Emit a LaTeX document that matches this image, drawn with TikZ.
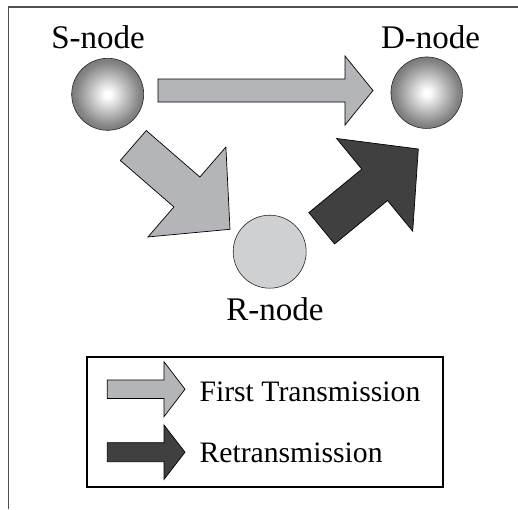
\documentclass[tikz,border=0pt]{standalone}
\usepackage{fontspec}
\setmainfont{Liberation Serif}
\newfontfamily\diagfont{Liberation Serif}
\usetikzlibrary{calc}
\definecolor{lightarr}{HTML}{B4B5B8}
\definecolor{darkarr}{HTML}{404040}
\definecolor{relayfill}{HTML}{CED0D2}
\definecolor{framegray}{HTML}{505050}
\pgfdeclareradialshading{sphereshade}{\pgfpoint{0bp}{0bp}}{color(0bp)=(white); color(2bp)=(white); color(22bp)=(black!48); color(50bp)=(black!85); color(100bp)=(black!85)}
\newcommand{\blockarrow}[6]{%
  \path ($(#3)!#6!(#2)$) coordinate (notch);
  \draw[#1] ($(#2)!#4!90:(#3)$) -- ($(notch)!#4!90:(#3)$) -- ($(notch)!#5!90:(#3)$) -- (#3)
    -- ($(notch)!#5!-90:(#3)$) -- ($(notch)!#4!-90:(#3)$) -- ($(#2)!#4!-90:(#3)$) -- cycle;
}
\tikzset{
  sphere/.style={circle, minimum size=#1, inner sep=0pt, draw=black!85, line width=0.6pt, shade, shading=sphereshade},
  relay/.style={circle, minimum size=73pt, inner sep=0pt, draw=black!85, line width=0.6pt, fill=relayfill},
  lightblk/.style={fill=lightarr, draw=black, line width=0.7pt, line join=miter},
  darkblk/.style={fill=darkarr, draw=black, line width=0.7pt, line join=miter},
  bigtxt/.style={font=\diagfont\fontsize{33}{40}\selectfont, inner sep=0pt, anchor=base},
  legtxt/.style={font=\diagfont\fontsize{29.7}{36}\selectfont, inner sep=0pt, anchor=base west},
}
\begin{document}
\begin{tikzpicture}[x=1pt, y=-1pt]
\useasboundingbox (0,0) rectangle (518,509);
% frame
\coordinate (fTR) at (518,7);
\coordinate (fTL) at (8.7,7);
\coordinate (fBL) at (8.7,509);
\draw[framegray, line width=1.5pt] (fTR) -- (fTL) -- (fBL);
% nodes
\node[sphere=72pt] (S) at (107.7,94.3) {};
\node[sphere=71.5pt] (D) at (426.7,92.7) {};
\node[relay] (R) at (269.7,251.7) {};
\node[bigtxt] (Slab) at (98,48) {S-node};
\node[bigtxt] (Dlab) at (430.5,48) {D-node};
\node[bigtxt] (Rlab) at (275,320) {R-node};
% block arrows
\coordinate (a1t) at (158,90.5);   \coordinate (a1h) at (373,90.5);
\coordinate (a2t) at (133.3,145.5); \coordinate (a2h) at (230,229.3);
\coordinate (a3t) at (321.7,228.3); \coordinate (a3h) at (418.3,149);
\blockarrow{lightblk}{a1t}{a1h}{11.5pt}{34.5pt}{28pt}
\blockarrow{lightblk}{a2t}{a2h}{19.8pt}{59.5pt}{57pt}
\blockarrow{darkblk}{a3t}{a3h}{20.3pt}{60pt}{56.5pt}
% legend
\node[draw=black, line width=2pt, minimum width=356pt, minimum height=129.4pt, inner sep=0pt] (leg) at (265.3,422) {};
\coordinate (l1t) at (107.3,389.2); \coordinate (l1h) at (185,389.2);
\coordinate (l2t) at (107.3,452.2); \coordinate (l2h) at (185,452.2);
\blockarrow{lightblk}{l1t}{l1h}{9.2pt}{27.5pt}{21pt}
\blockarrow{darkblk}{l2t}{l2h}{9.5pt}{27.2pt}{21pt}
\node[legtxt] (t1) at (199.3,401.7) {First Transmission};
\node[legtxt] (t2) at (199.3,462.7) {Retransmission};
\end{tikzpicture}
\end{document}
